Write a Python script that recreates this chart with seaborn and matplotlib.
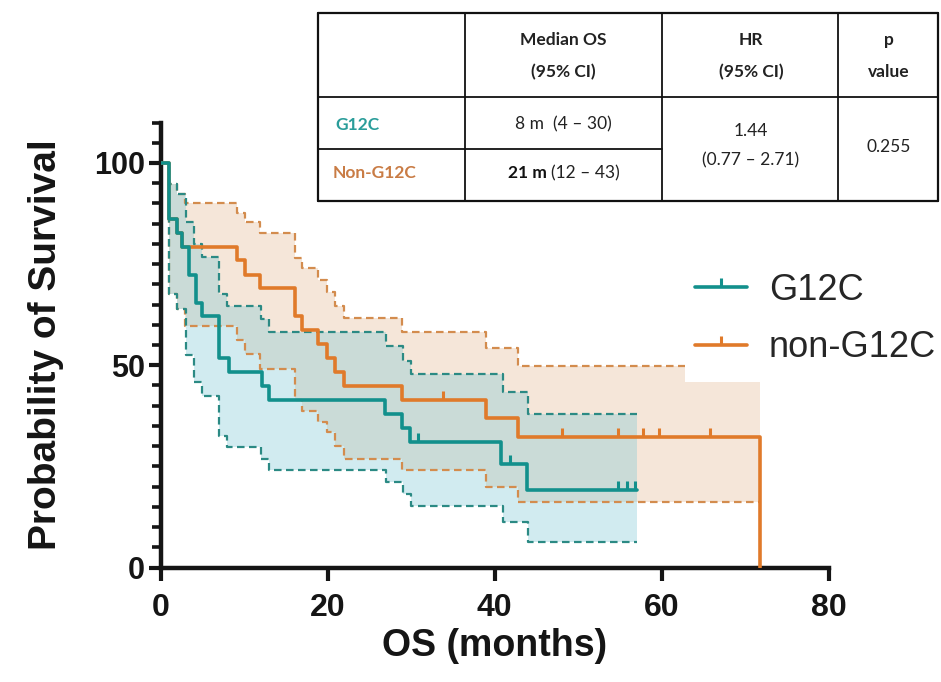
import numpy as np
import pandas as pd
import matplotlib
matplotlib.use("Agg")
import matplotlib.pyplot as plt
import seaborn as sns
from matplotlib.lines import Line2D
from matplotlib.ticker import MultipleLocator, FixedLocator

# ---- Kaplan-Meier estimates (months, % surviving) ----
g12c_time = [0, 1, 2, 2.6, 3.4, 4.2, 5, 7, 8.2, 12.2, 13, 26.9, 28.9, 29.8, 40.8, 43.8]
g12c_surv = [100, 86.2, 82.8, 79.3, 72.4, 65.5, 62.1, 51.7, 48.3, 44.8, 41.4, 37.9, 34.5, 31.0, 25.6, 19.2]
g12c_end = 57.0
g12c_ci_time = [0, 1, 2, 3, 4, 5, 7, 8, 12, 13, 27, 29, 30, 41, 44]
g12c_upper = [100, 94.7, 92.3, 85.3, 79.9, 76.8, 67.6, 64.7, 61.5, 58.1, 54.8, 51.1, 47.8, 43.3, 37.9]
g12c_lower = [100, 67.5, 64.0, 52.5, 45.8, 42.5, 32.6, 29.7, 26.8, 24.0, 21.1, 18.2, 15.3, 11.2, 6.3]
g12c_censor = [30.8, 41.8, 54.8, 55.8, 56.8]

non_time = [0, 1, 2, 2.6, 9.1, 10.1, 11.9, 16.1, 16.9, 18.9, 19.9, 20.9, 21.9, 28.9, 39.0, 42.8]
non_surv = [100, 86.2, 82.8, 79.3, 75.9, 72.4, 69.0, 62.1, 58.6, 55.2, 51.7, 48.3, 44.8, 41.4, 36.9, 32.2]
non_end = 71.7
non_ci_time = [0, 1, 2, 2.9, 9.1, 10.1, 11.9, 16.1, 16.9, 18.9, 19.9, 20.9, 21.9, 28.9, 39.0, 42.8, 62.8]
non_upper = [100, 94.7, 92.3, 90.0, 87.7, 85.3, 82.6, 76.6, 74.1, 71.0, 68.2, 64.7, 61.7, 58.1, 54.2, 49.9, 45.8]
non_lower = [100, 67.5, 64.0, 59.8, 56.2, 52.8, 49.1, 41.5, 38.8, 36.0, 33.5, 30.1, 26.8, 24.0, 19.8, 16.1, 16.1]
non_censor = [33.8, 48.0, 54.8, 57.7, 59.7, 65.7]

group_labels = ["G12C", "non-G12C"]
x_ticks = [0, 20, 40, 60, 80]
y_ticks = [0, 50, 100]

# ---- summary table ----
table_header = [["Median OS", "(95% CI)"], ["HR", "(95% CI)"], ["p", "value"]]
table_rows = ["G12C", "Non-G12C"]
median_g12c = "8 m  (4 \u2013 30)"
median_non_bold = "21 m"
median_non_ci = "(12 \u2013 43)"
hr_text = ["1.44", "(0.77 \u2013 2.71)"]
p_text = "0.255"

TEAL = "#12908c"
ORANGE = "#e07a2a"
TEAL_DASH = "#2b8a84"
ORANGE_DASH = "#d38c4e"
INK = "#151515"

sns.set_theme(style="ticks")
plt.rcParams["font.family"] = ["Liberation Sans", "DejaVu Sans"]

W, H = 941, 682
fig = plt.figure(figsize=(W / 100, H / 100), dpi=100)
x0, x1, y0, y1 = 160.5, 829.0, 567.5, 122.5
ax = fig.add_axes([x0 / W, 1 - y0 / H, (x1 - x0) / W, (y0 - y1) / H])


def extend(t, v, end):
    return list(t) + [end], list(v) + [v[-1]]


def level_at(t, v, x):
    idx = np.searchsorted(np.asarray(t), x, side="right") - 1
    return np.asarray(v)[idx]


# confidence bands
nt, nl = extend(non_ci_time, non_lower, non_end)
_, nu = extend(non_ci_time, non_upper, non_end)
ax.fill_between(nt, nl, nu, step="post", color="#dba576", alpha=0.27, lw=0, zorder=1)
gt, gl = extend(g12c_ci_time, g12c_lower, g12c_end)
_, gu = extend(g12c_ci_time, g12c_upper, g12c_end)
ax.fill_between(gt, gl, gu, step="post", color="#7cc8d4", alpha=0.35, lw=0, zorder=1.1)

dash = (0, (3.4, 2.0))
# dashed band edges
df_nu = pd.DataFrame({"t": list(non_ci_time[:-1]) + [non_ci_time[-1]],
                      "v": list(non_upper[:-1]) + [non_upper[-2]]})
df_nl = pd.DataFrame({"t": nt, "v": nl})
df_gu = pd.DataFrame({"t": gt, "v": gu})
df_gl = pd.DataFrame({"t": gt, "v": gl})
for d, c, z in [(df_nu, ORANGE_DASH, 2), (df_nl, ORANGE_DASH, 2),
                (df_gu, TEAL_DASH, 2.1), (df_gl, TEAL_DASH, 2.1)]:
    sns.lineplot(data=d, x="t", y="v", ax=ax, drawstyle="steps-post", estimator=None,
                 sort=False, color=c, lw=1.6, linestyle=dash, zorder=z, legend=False)

# survival curves
df_non = pd.DataFrame({"t": list(non_time) + [non_end, non_end],
                       "v": list(non_surv) + [non_surv[-1], 0]})
df_g = pd.DataFrame({"t": list(g12c_time) + [g12c_end],
                     "v": list(g12c_surv) + [g12c_surv[-1]]})
sns.lineplot(data=df_non, x="t", y="v", ax=ax, drawstyle="steps-post", estimator=None,
             sort=False, color=ORANGE, lw=2.6, zorder=3, legend=False)
sns.lineplot(data=df_g, x="t", y="v", ax=ax, drawstyle="steps-post", estimator=None,
             sort=False, color=TEAL, lw=2.6, zorder=3.1, legend=False)

# censor marks: short upward ticks
tick_marker = [(0, 0), (0, 1)]
ax.plot(non_censor, level_at(non_time, non_surv, non_censor), ls="none",
        marker=tick_marker, ms=13, mew=2.2, mec=ORANGE, zorder=3.2, clip_on=False)
ax.plot(g12c_censor, level_at(g12c_time, g12c_surv, g12c_censor), ls="none",
        marker=tick_marker, ms=13, mew=2.2, mec=TEAL, zorder=3.3, clip_on=False)

# axes styling
ax.set_xlim(0, 80)
ax.set_ylim(0, 110)
ax.set_facecolor("white")
for s in ["top", "right"]:
    ax.spines[s].set_visible(False)
for s in ["left", "bottom"]:
    ax.spines[s].set_linewidth(3.2)
    ax.spines[s].set_color(INK)
ax.xaxis.set_major_locator(FixedLocator(x_ticks))
ax.yaxis.set_major_locator(FixedLocator(y_ticks))
ax.yaxis.set_minor_locator(MultipleLocator(5))
ax.tick_params(axis="x", which="major", length=9, width=3, color=INK,
               labelsize=23, pad=9, direction="out", labelcolor=INK)
ax.tick_params(axis="y", which="major", length=9, width=3, color=INK,
               labelsize=22, pad=2, direction="out", labelcolor=INK)
ax.tick_params(axis="y", which="minor", length=6.5, width=2.6, color=INK, direction="out")
for lab in ax.get_xticklabels() + ax.get_yticklabels():
    lab.set_fontweight("bold")
ax.set_xlabel("OS (months)", fontsize=27, fontweight="bold", color=INK)
ax.set_ylabel("Probability of Survival", fontsize=28, fontweight="bold", color=INK)
ax.xaxis.set_label_coords(0.5, -0.137)
ax.yaxis.set_label_coords(-0.145, 0.5)

# legend
handles = [Line2D([0], [0], color=TEAL, lw=2.6, marker=tick_marker, ms=13, mew=2.2, mec=TEAL),
           Line2D([0], [0], color=ORANGE, lw=2.6, marker=tick_marker, ms=13, mew=2.2, mec=ORANGE)]
fig.legend(handles, group_labels, loc="upper left", bbox_to_anchor=(695 / W, 1 - 273 / H),
           frameon=False, handlelength=1.45, handletextpad=0.6,
           labelspacing=0.62, borderpad=0, borderaxespad=0,
           prop={"family": ["Liberation Sans", "DejaVu Sans"], "size": 26})


# ---- table drawn in figure pixels ----
def fx(px):
    return px / W


def fy(py):
    return 1 - py / H


def hline(xa, xb, y, lw=1.3):
    fig.add_artist(Line2D([fx(xa), fx(xb)], [fy(y), fy(y)], color="#111111", lw=lw))


def vline(x, ya, yb, lw=1.3):
    fig.add_artist(Line2D([fx(x), fx(x)], [fy(ya), fy(yb)], color="#111111", lw=lw))


tl, tr, tt, tb = 318, 938, 13, 201
cols = [465, 662, 838]
hline(tl, tr, tt, 1.6)
hline(tl, tr, tb, 1.6)
vline(tl, tt, tb, 1.6)
vline(tr, tt, tb, 1.6)
for c in cols:
    vline(c, tt, tb)
hline(tl, tr, 97)
hline(tl, cols[1], 149)

tfont = ["Lato", "DejaVu Sans"]
tsize = 12.5
centers = [563, 751, 889]
for (l1, l2), cx in zip(table_header, centers):
    fig.text(fx(cx), fy(40), l1, ha="center", va="center", fontsize=tsize,
             fontweight="bold", family=tfont, color="#222222")
    fig.text(fx(cx), fy(72), l2, ha="center", va="center", fontsize=tsize,
             fontweight="bold", family=tfont, color="#222222")
fig.text(fx(335), fy(125), table_rows[0], ha="left", va="center", fontsize=tsize,
         fontweight="bold", family=tfont, color="#2a9d9a")
fig.text(fx(333), fy(173), table_rows[1], ha="left", va="center", fontsize=tsize,
         fontweight="bold", family=tfont, color="#c97c45")
fig.text(fx(563), fy(124), median_g12c, ha="center", va="center", fontsize=tsize,
         family=tfont, color="#222222")
fig.text(fx(547), fy(173), median_non_bold, ha="right", va="center", fontsize=tsize,
         fontweight="bold", family=tfont, color="#111111")
fig.text(fx(551), fy(173), median_non_ci, ha="left", va="center", fontsize=tsize,
         family=tfont, color="#222222")
fig.text(fx(751), fy(131), hr_text[0], ha="center", va="center", fontsize=tsize,
         family=tfont, color="#222222")
fig.text(fx(751), fy(160), hr_text[1], ha="center", va="center", fontsize=tsize,
         family=tfont, color="#222222")
fig.text(fx(889), fy(147), p_text, ha="center", va="center", fontsize=tsize,
         family=tfont, color="#222222")

fig.savefig("out.png", dpi=100, facecolor="white")
